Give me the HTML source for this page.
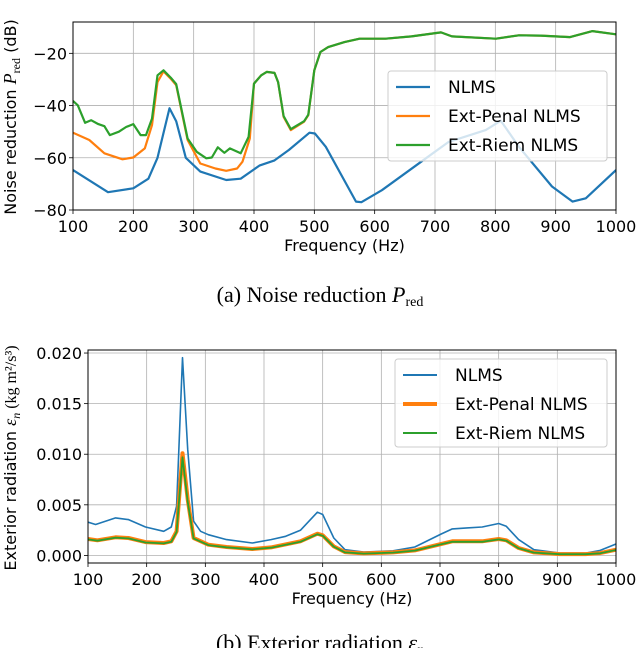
<!DOCTYPE html>
<html><head><meta charset="utf-8"><style>
body{margin:0;background:#fff;}
svg{display:block;font-family:"DejaVu Sans","Liberation Sans",sans-serif;}
</style></head><body>
<svg id="fig" width="640" height="648" viewBox="0 0 640 648"></svg>
<script>
const topFreq=[100,127,152,182,200,219,231,240,250,262,271,290,311,336,354,372,381,393,400,412,421,434,440,449,461,483,490,500,510,523,550,575,618,661,710,728,801,839,875,924,961,1000];
const topPenal=[-50.4,-53.2,-58.3,-60.6,-59.9,-56.4,-47.5,-31,-26.9,-29.7,-32.2,-53.2,-62.2,-64.1,-65,-64.1,-61.5,-52.6,-31.6,-28.4,-27.1,-27.5,-31,-44.3,-49.4,-46.2,-43.7,-26.5,-19.5,-17.6,-15.7,-14.4,-14.4,-13.5,-12,-13.5,-14.4,-13.1,-13.2,-13.8,-11.5,-12.7];
const topRiemFreq=[100,108,120,130,142,152,161,176,188,200,212,221,231,240,250,262,271,290,305,321,330,340,351,360,378,391,400,412,421,434,440,449,461,483,490,500,510,523,550,575,618,661,710,728,801,839,875,924,961,1000];
const topRiem=[-38.2,-39.9,-46.6,-45.6,-47.1,-47.9,-51.3,-50,-48.2,-47.1,-51.3,-51.3,-45,-28.4,-26.5,-29.3,-31.8,-52.6,-57.7,-60.2,-59.9,-56,-58.1,-56.4,-58.3,-52,-31.6,-28.4,-27.1,-27.5,-31,-44,-49,-46,-43.5,-26.5,-19.5,-17.6,-15.7,-14.4,-14.4,-13.5,-12,-13.5,-14.4,-13.1,-13.2,-13.8,-11.5,-12.7];
const topNlmsFreq=[100,158,200,225,240,260,271,287,311,354,378,409,434,458,492,501,519,569,578,612,692,722,784,809,839,894,928,950,1000];
const topNlms=[-64.7,-73.2,-71.7,-68,-60,-41,-46,-60,-65.3,-68.5,-68,-63,-61,-57,-50.4,-50.7,-55.8,-76.8,-77,-72.4,-59,-54,-49.4,-45.8,-55.8,-71,-76.8,-75.5,-64.7];
const topTicks=[-80,-60,-40,-20];
const xTicks=[100,200,300,400,500,600,700,800,900,1000];
const botNlmsFreq=[100,113,147,169,198,229,242,251,261,270,280,292,305,336,380,412,437,462,491,500,519,538,570,620,657,702,721,746,772,800,813,834,860,904,948,973,1000];
const botNlms=[.00328,.00305,.00371,.00354,.00281,.00238,.00281,.00487,.01954,.0105,.00338,.00238,.00205,.00156,.00123,.00156,.00189,.00248,.00427,.00404,.00172,.00056,.00033,.00046,.00083,.00212,.00262,.00272,.00281,.00315,.00288,.00156,.00056,.00023,.00023,.0005,.00113];
const botExtFreq=[100,116,147,169,198,229,242,251,261,270,280,305,336,380,412,462,491,500,519,538,570,620,657,702,721,772,800,813,834,860,904,948,973,1000];
const botPenal=[.00162,.00149,.00179,.00172,.00132,.00123,.00139,.00238,.0101,.00553,.00172,.00106,.00083,.00063,.00079,.00139,.00215,.00199,.00089,.00033,.0002,.0003,.0005,.00113,.00139,.00139,.00162,.00149,.00073,.0003,.00013,.00013,.00023,.00056];
const botRiem=[.00158,.00145,.00175,.00168,.00128,.00119,.00135,.00232,.0097,.0053,.00168,.00102,.0008,.0006,.00076,.00135,.0021,.00195,.00086,.0003,.00018,.00028,.00048,.0011,.00135,.00135,.00158,.00145,.0007,.00028,.00012,.00012,.00021,.00053];
const botTicks=[0,0.005,0.010,0.015,0.020];

const NS="http://www.w3.org/2000/svg";
const svg=document.getElementById('fig');
function mk(tag,attrs,parent){const e=document.createElementNS(NS,tag);for(const k in attrs)e.setAttribute(k,attrs[k]);(parent||svg).appendChild(e);return e;}
const blue="#1f77b4",orange="#ff7f0e",green="#2ca02c";

function panel(P){
  const g=mk('g',{});
  
  
  const sx=f=>P.x0+(f-100)/900*(P.x1-P.x0);
  const sy=v=>P.y1-(v-P.vmin)/(P.vmax-P.vmin)*(P.y1-P.y0);
  xTicks.forEach(t=>{
    const l=mk('line',{x1:sx(t),x2:sx(t),y1:P.y0,y2:P.y1,stroke:"#b0b0b0","stroke-width":0.8},g);
    
    mk('line',{x1:sx(t),x2:sx(t),y1:P.y1,y2:P.y1+4,stroke:"#000","stroke-width":0.8},g);
    const tx=mk('text',{x:sx(t),y:P.y1+22,"text-anchor":"middle","font-size":16},g);
    tx.textContent=t;
    
  });
  P.ticks.forEach((t,i)=>{
    const l=mk('line',{x1:P.x0,x2:P.x1,y1:sy(t),y2:sy(t),stroke:"#b0b0b0","stroke-width":0.8},g);
    
    mk('line',{x1:P.x0-4,x2:P.x0,y1:sy(t),y2:sy(t),stroke:"#000","stroke-width":0.8},g);
    const tx=mk('text',{x:P.x0-6,y:sy(t)+6,"text-anchor":"end","font-size":16},g);
    tx.textContent=P.fmt(t);
    
  });
  const cp=mk('clipPath',{id:P.name+'-clip'},g);
  mk('rect',{x:P.x0,y:P.y0,width:P.x1-P.x0,height:P.y1-P.y0},cp);
  P.series.forEach(s=>{
    const d=s.f.map((f,i)=>(i?'L':'M')+sx(f).toFixed(1)+','+sy(s.v[i]).toFixed(1)).join('');
    const p=mk('path',{d:d,fill:"none",stroke:s.c,"stroke-width":s.w,"stroke-linejoin":"round","clip-path":`url(#${P.name}-clip)`},g);
    
  });
  const fr=mk('rect',{x:P.x0,y:P.y0,width:P.x1-P.x0,height:P.y1-P.y0,fill:"none",stroke:"#000","stroke-width":1},g);
  
  const xl=mk('text',{x:(P.x0+P.x1)/2,y:P.y1+41,"text-anchor":"middle","font-size":16},g);
  xl.textContent="Frequency (Hz)";
  
  const L=P.legend;
  const lg=mk('g',{},g);
  
  mk('rect',{x:L.x,y:L.y,width:L.w,height:L.h,rx:3,fill:"#fff","fill-opacity":0.8,stroke:"#ccc","stroke-width":1},lg);
  P.legendSeries.forEach((s,i)=>{
    const yy=L.y+16+i*29;
    mk('line',{x1:L.x+8,x2:L.x+42,y1:yy,y2:yy,stroke:s.c,"stroke-width":s.w},lg);
    const t=mk('text',{x:L.x+60,y:yy+6,"font-size":17},lg);
    t.textContent=s.label;
    
  });
}

panel({name:'noise-reduction-chart',x0:73,x1:616,y0:22,y1:210,vmin:-80,vmax:-8,ticks:topTicks,fmt:t=>String(t).replace('-','\u2212'),
 series:[{f:topNlmsFreq,v:topNlms,c:blue,w:2.2,n:'nlms-line'},{f:topFreq,v:topPenal,c:orange,w:2.2,n:'ext-penal-line'},{f:topRiemFreq,v:topRiem,c:green,w:2.2,n:'ext-riem-line'}],
 legend:{x:388,y:71,w:219,h:90},
 legendSeries:[{c:blue,w:2.2,label:'NLMS'},{c:orange,w:2.2,label:'Ext-Penal NLMS'},{c:green,w:2.2,label:'Ext-Riem NLMS'}]});
panel({name:'exterior-radiation-chart',x0:88,x1:616,y0:350,y1:563,vmin:-0.00075,vmax:0.0203,ticks:botTicks,fmt:t=>t.toFixed(3),
 series:[{f:botNlmsFreq,v:botNlms,c:blue,w:1.6,n:'nlms-line'},{f:botExtFreq,v:botPenal,c:orange,w:4,n:'ext-penal-line'},{f:botExtFreq,v:botRiem,c:green,w:1.8,n:'ext-riem-line'}],
 legend:{x:395,y:359,w:212,h:88},
 legendSeries:[{c:blue,w:2,label:'NLMS'},{c:orange,w:4,label:'Ext-Penal NLMS'},{c:green,w:2,label:'Ext-Riem NLMS'}]});
</script>
<svg style="position:absolute;left:0;top:0" width="640" height="648">
<text transform="translate(16,117) rotate(-90)" text-anchor="middle" font-size="16" font-family="DejaVu Sans, sans-serif">Noise reduction <tspan font-family="Liberation Serif, serif" font-style="italic" font-size="18">P</tspan><tspan font-family="Liberation Serif, serif" font-size="12" dy="4">red</tspan><tspan dy="-4"> (dB)</tspan></text>
<text transform="translate(16,458) rotate(-90)" text-anchor="middle" font-size="16" font-family="DejaVu Sans, sans-serif">Exterior radiation <tspan font-family="Liberation Serif, serif" font-style="italic" font-size="18">ε</tspan><tspan font-family="Liberation Serif, serif" font-style="italic" font-size="12" dy="4">n</tspan><tspan dy="-4" font-family="Liberation Serif, serif" font-size="16"> (kg m²/s³)</tspan></text>
<text x="320" y="302" text-anchor="middle" font-size="22" font-family="Liberation Serif, serif">(a) Noise reduction <tspan font-style="italic">P</tspan><tspan font-size="14" dy="4">red</tspan></text>
<text x="320" y="650" text-anchor="middle" font-size="22" font-family="Liberation Serif, serif">(b) Exterior radiation <tspan font-style="italic">ε</tspan><tspan font-size="14" font-style="italic" dy="4">n</tspan></text>
</svg>
</body></html>
